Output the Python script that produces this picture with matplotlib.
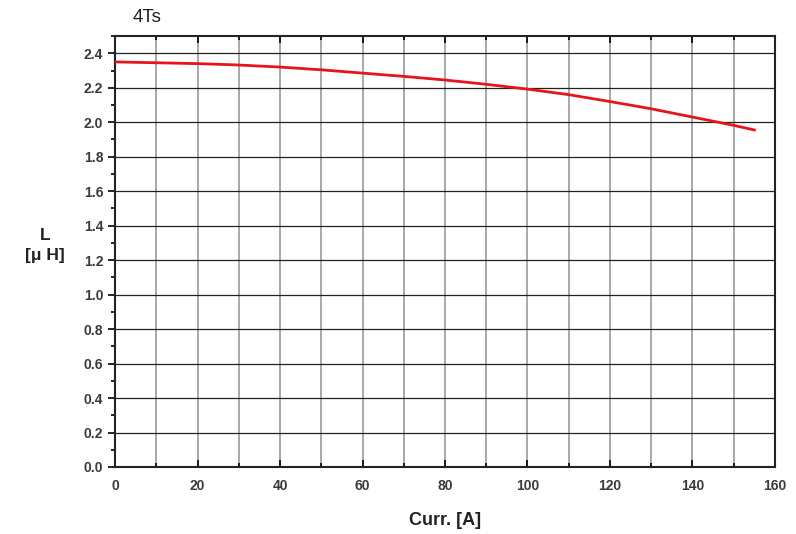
import numpy as np
import matplotlib.pyplot as plt
from matplotlib.ticker import MultipleLocator

# inductance vs current
curr = [0, 10, 20, 30, 40, 50, 60, 70, 80, 90, 100, 110, 120, 130, 140, 150, 155]
ind = [2.350, 2.345, 2.340, 2.332, 2.320, 2.304, 2.285, 2.266, 2.245, 2.220, 2.192, 2.160, 2.120, 2.078, 2.030, 1.982, 1.955]

plt.rcParams['font.family'] = ['Liberation Sans', 'DejaVu Sans']

fig = plt.figure(figsize=(7.96, 5.34), dpi=100)
ax = fig.add_axes([0.1445, 0.1255, 0.8291, 0.807])

ax.plot(curr, ind, color='#e8141c', lw=2.0, zorder=3)

ax.set_xlim(0, 160)
ax.set_ylim(0, 2.5)
ax.xaxis.set_major_locator(MultipleLocator(20))
ax.xaxis.set_minor_locator(MultipleLocator(10))
ax.yaxis.set_major_locator(MultipleLocator(0.2))
ax.yaxis.set_minor_locator(MultipleLocator(0.1))
ax.yaxis.set_major_formatter(plt.FormatStrFormatter('%.1f'))

ax.grid(which='both', axis='x', color='#999999', lw=1.2)
ax.grid(which='major', axis='y', color='#222222', lw=0.9)

ax.tick_params(axis='x', which='both', direction='in', top=True, length=5, width=1.2, labelsize=10, pad=9)
ax.tick_params(axis='x', which='minor', length=3)
ax.tick_params(axis='y', which='both', direction='out', length=5, width=1.2, labelsize=10)
ax.tick_params(axis='y', which='minor', length=3)
for lab in ax.get_xticklabels() + ax.get_yticklabels():
    lab.set_fontweight('bold')
    lab.set_color('#3a3a3a')
for s in ax.spines.values():
    s.set_linewidth(1.5)
    s.set_color('#222222')

ax.set_xlabel('Curr. [A]', fontsize=13, fontweight='bold', color='#222222', labelpad=13)
fig.text(0.057, 0.54, 'L\n[μ H]', fontsize=12.5, fontweight='bold', color='#222222',
         ha='center', va='center', linespacing=1.4)
fig.text(0.167, 0.967, '4Ts', fontsize=13.5, color='#222222', ha='left', va='center')

fig.savefig('out.png', dpi=100)
